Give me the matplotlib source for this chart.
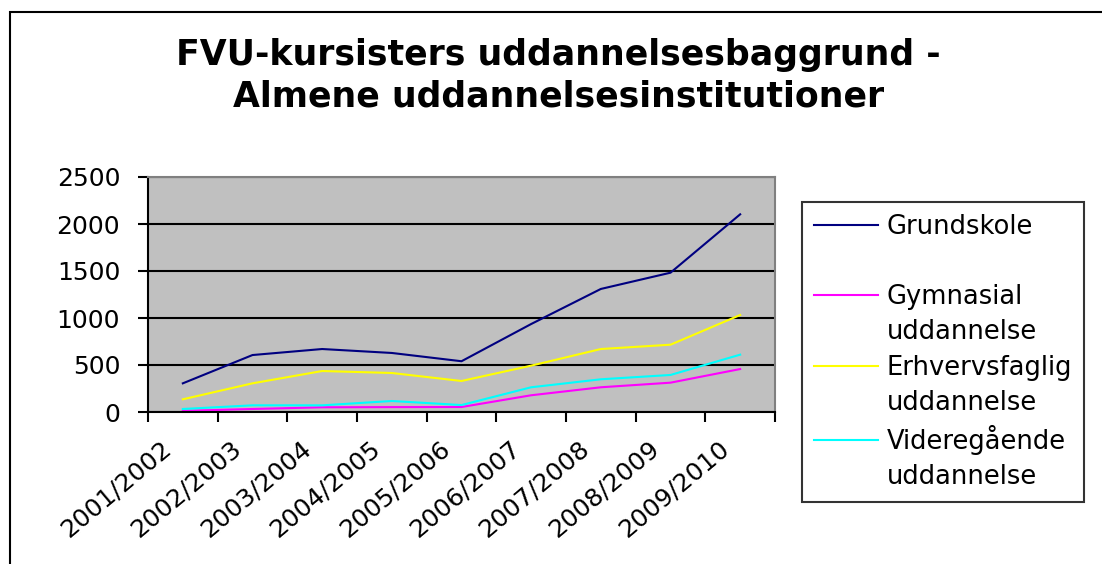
import numpy as np
import matplotlib
matplotlib.use("Agg")
import matplotlib.pyplot as plt
from matplotlib.lines import Line2D
from matplotlib.patches import Rectangle
from matplotlib.transforms import ScaledTranslation

# data
years = ["2001/2002", "2002/2003", "2003/2004", "2004/2005", "2005/2006",
         "2006/2007", "2007/2008", "2008/2009", "2009/2010"]
grundskole = [305, 606, 670, 628, 540, 936, 1309, 1482, 2103]
gymnasial = [12, 32, 50, 52, 53, 178, 263, 312, 457]
erhvervsfaglig = [135, 305, 436, 415, 330, 493, 670, 716, 1032]
videregaaende = [32, 71, 71, 117, 74, 263, 348, 394, 610]

series = [
    ("Grundskole", grundskole, "#000080"),
    ("Gymnasial", gymnasial, "#FF00FF"),
    ("Erhvervsfaglig", erhvervsfaglig, "#FFFF00"),
    ("Videregående", videregaaende, "#00FFFF"),
]

plt.rcParams['font.family'] = ['DejaVu Sans']

fig = plt.figure(figsize=(11.02, 5.64), dpi=100)
ax = fig.add_axes([148/1102, 1-412/564, (775-148)/1102, (412-177)/564])
ax.set_facecolor("#C0C0C0")

x = np.arange(len(years))
for name, vals, col in series:
    ax.plot(x, vals, color=col, lw=1.5, label=name)

ax.set_xlim(-0.5, len(years) - 0.5)
ax.set_ylim(0, 2500)
ax.set_yticks(np.arange(0, 2501, 500))
ax.yaxis.grid(True, color="black", lw=1.5)
ax.set_axisbelow(True)

ax.set_xticks(x)
ax.set_xticklabels(years, rotation=40, ha="right", va="baseline",
                   rotation_mode="anchor", fontsize=18)
ax.set_xticks(np.arange(-0.5, len(years)), minor=True)
ax.tick_params(axis="x", which="major", length=0, pad=28)
ax.tick_params(axis="x", which="minor", length=7, width=1.5, direction="out")
ax.tick_params(axis="y", length=7, width=1.5, direction="out",
               labelsize=18, pad=13)
# nudge year labels a little to the left (after tick_params, which resets transforms)
shift = ScaledTranslation(-10/100, 0, fig.dpi_scale_trans)
for lab in ax.get_xticklabels():
    lab.set_transform(lab.get_transform() + shift)

for s in ["left", "bottom"]:
    ax.spines[s].set_color("black")
    ax.spines[s].set_linewidth(1.5)
for s in ["top", "right"]:
    ax.spines[s].set_color("#808080")
    ax.spines[s].set_linewidth(1.5)

# legend: first line of each label next to its line
handles, labels = [], []
blank = Line2D([], [], color="none")
legend_rows = [
    (0, "Grundskole"), (None, " "),
    (1, "Gymnasial"), (None, "uddannelse"),
    (2, "Erhvervsfaglig"), (None, "uddannelse"),
    (3, "Videregående"), (None, "uddannelse"),
]
for idx, lab in legend_rows:
    if idx is None:
        handles.append(blank)
    else:
        handles.append(Line2D([], [], color=series[idx][2], lw=1.5))
    labels.append(lab)

leg = ax.legend(handles, labels, loc="upper left",
                bbox_to_anchor=(802/1102, 1-202/564),
                bbox_transform=fig.transFigure, borderaxespad=0,
                fontsize=18.5, frameon=True, fancybox=False,
                handlelength=2.5, handletextpad=0.35, labelspacing=0.36,
                borderpad=0.45)
leg.get_frame().set_edgecolor("black")
leg.get_frame().set_linewidth(1.5)

fig.text(0.507, 1-38/564,
         "FVU-kursisters uddannelsesbaggrund -\nAlmene uddannelsesinstitutioner",
         ha="center", va="top", fontsize=25, fontweight="bold", linespacing=1.29)

# outer chart border
fig.patches.append(Rectangle((10/1102, -0.1), 1.2, 1.1 - 12/564,
                             transform=fig.transFigure, fill=False,
                             edgecolor="black", lw=1.5))

fig.savefig("out.png", dpi=100)
